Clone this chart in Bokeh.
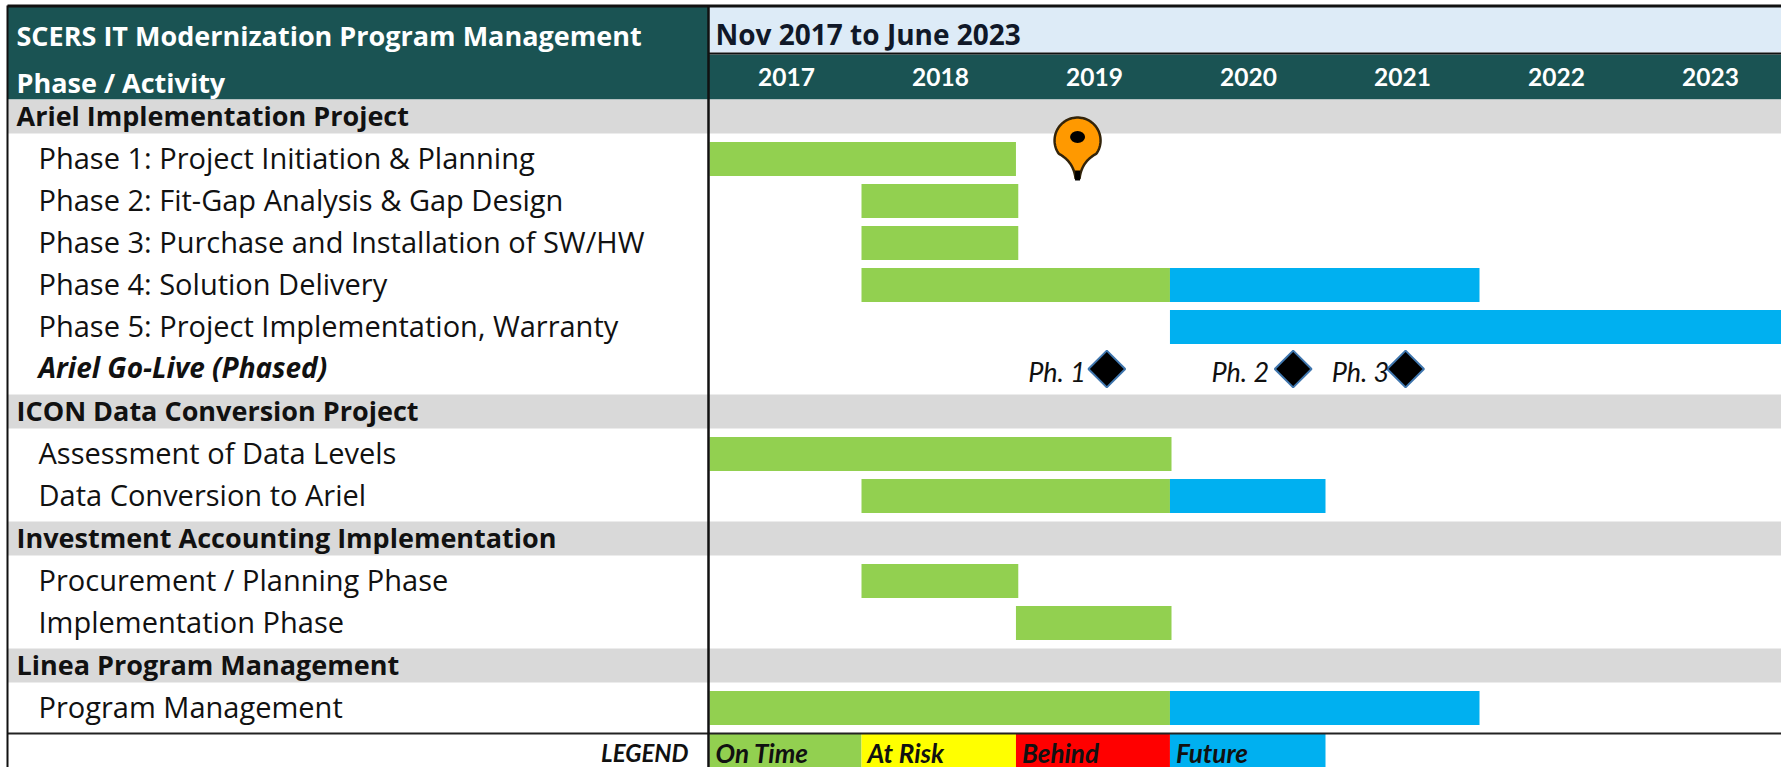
import numpy as np
from bokeh.plotting import figure
from bokeh.models import Range1d
from bokeh.core.properties import value
from bokeh.embed import file_html
from bokeh.resources import INLINE

title_left = "SCERS IT Modernization Program Management"
subtitle_left = "Phase / Activity"
title_right = "Nov 2017 to June 2023"
years = [2017, 2018, 2019, 2020, 2021, 2022, 2023]

groups = ["Ariel Implementation Project", "ICON Data Conversion Project",
          "Investment Accounting Implementation", "Linea Program Management"]
activities = [
    ["Phase 1: Project Initiation & Planning", "Phase 2: Fit-Gap Analysis & Gap Design",
     "Phase 3: Purchase and Installation of SW/HW", "Phase 4: Solution Delivery",
     "Phase 5: Project Implementation, Warranty", "Ariel Go-Live (Phased)"],
    ["Assessment of Data Levels", "Data Conversion to Ariel"],
    ["Procurement / Planning Phase", "Implementation Phase"],
    ["Program Management"],
]
# (group, row, start, end, status)
bars = [
    (0, 0, 2017.0, 2018.99, "On Time"),
    (0, 1, 2017.987, 2019.005, "On Time"),
    (0, 2, 2017.987, 2019.005, "On Time"),
    (0, 3, 2017.987, 2019.99, "On Time"),
    (0, 3, 2019.99, 2022.0, "Future"),
    (0, 4, 2019.99, 2024.0, "Future"),
    (1, 0, 2017.0, 2020.0, "On Time"),
    (1, 1, 2017.987, 2019.99, "On Time"),
    (1, 1, 2019.99, 2021.0, "Future"),
    (2, 0, 2017.987, 2019.005, "On Time"),
    (2, 1, 2018.99, 2020.0, "On Time"),
    (3, 0, 2017.0, 2019.99, "On Time"),
    (3, 0, 2019.99, 2022.0, "Future"),
]
milestones = ["Ph. 1", "Ph. 2", "Ph. 3"]
milestone_x = [2019.58, 2020.79, 2021.52]
milestone_label_x = [2019.07, 2020.26, 2021.04]
pin_x = 2019.39
legend_names = ["On Time", "At Risk", "Behind", "Future"]
legend_edges = [2017.0, 2017.987, 2018.99, 2019.99, 2021.0]
colors = {"On Time": "#92D050", "At Risk": "#FFFF00", "Behind": "#FF0000", "Future": "#00B0F0"}

W, H = 1781, 767
X0, PX = 709.0, 154.0
def yr(px):
    return 2017 + (px - X0) / PX

p = figure(width=W, height=H, x_range=Range1d(yr(0), yr(W)), y_range=Range1d(H, 0),
           toolbar_location=None, output_backend="svg", min_border=0, outline_line_color=None,
           background_fill_color="white", border_fill_color="white")
p.axis.visible = False
p.grid.visible = False

FONT = value("Open Sans")
XL, XD, XR = yr(7), yr(708), yr(W)
TEAL, GREY, PALE = "#1A5353", "#D9D9D9", "#DDEBF7"
INK = "#111111"

# header
p.quad(left=XL, right=XD, top=6, bottom=99, fill_color=TEAL, line_color=None)
p.quad(left=XD, right=XR, top=6, bottom=52, fill_color=PALE, line_color=None)
p.quad(left=XD, right=XR, top=54, bottom=99, fill_color=TEAL, line_color=None)
p.text(x=[yr(16)], y=[35], text=[title_left], text_font=FONT, text_font_style="bold", text_color="white",
       text_font_size="27px", text_baseline="middle")
p.text(x=[yr(16)], y=[82], text=[subtitle_left], text_font=FONT, text_font_style="bold", text_color="white",
       text_font_size="27px", text_baseline="middle")
p.text(x=[yr(715)], y=[33], text=[title_right], text_font=FONT, text_font_style="bold", text_color="#101828",
       text_font_size="28px", text_baseline="middle")
p.text(x=[y + 0.5 for y in years], y=[76] * len(years), text=[str(y) for y in years], text_font=value("Lato"),
       text_font_style="bold", text_color="white", text_font_size="24.5px", text_baseline="middle", text_align="center")

# sections
G_H, R_H, PAD, TOP = 34, 42, 9, 99
y = TOP
centers = {}
for gi, (g, rows) in enumerate(zip(groups, activities)):
    p.quad(left=XL, right=XR, top=y, bottom=y + G_H, fill_color=GREY, line_color=None)
    p.text(x=[yr(16)], y=[y + G_H / 2 - 1.5], text=[g], text_font=FONT, text_font_style="bold", text_color=INK,
           text_font_size="27px", text_baseline="middle")
    for ri, r in enumerate(rows):
        c = y + G_H + 25.5 + R_H * ri
        centers[(gi, ri)] = c
        bold = r.startswith("Ariel Go-Live")
        p.text(x=[yr(38)], y=[c - 2], text=[r], text_font=FONT, text_color=INK,
               text_font_size="28px" if bold else "29px",
               text_baseline="middle", text_font_style="bold italic" if bold else "normal")
    y += G_H + R_H * len(rows) + PAD

# bars
BAR_H = 34
for gi, ri, s, e, st in bars:
    c = centers[(gi, ri)]
    p.quad(left=s, right=e, top=c - BAR_H / 2, bottom=c + BAR_H / 2, fill_color=colors[st], line_color=None)

# milestones
cy = centers[(0, 5)]
p.scatter(x=milestone_x, y=[cy] * 3, marker="square", size=26, angle=np.pi / 4, fill_color="black",
          line_color="#3F76AE", line_width=2)
p.text(x=milestone_label_x, y=[cy + 2] * 3, text=milestones,
       text_font=value("Lato"), text_font_style="italic", text_color=INK, text_font_size="27px",
       text_baseline="middle", text_align="left")

# pin: round head running into a concave taper, mirrored about its axis
head_y, r_px = 140.0, 23.0
t = np.linspace(np.radians(-215), np.radians(35), 60)
hx = r_px * np.cos(t)
hy = head_y + r_px * np.sin(t)
u = np.linspace(0, 1, 20)
bx = (1 - u) ** 2 * hx[-1] + 2 * u * (1 - u) * 4 + u ** 2 * 2
by = (1 - u) ** 2 * hy[-1] + 2 * u * (1 - u) * (head_y + 21) + u ** 2 * 178
xs = pin_x + np.concatenate([hx, bx, -bx[::-1]]) / PX
ys = np.concatenate([hy, by, by[::-1]])
p.patch(x=list(xs), y=list(ys), fill_color="#FF9900", line_color="#33240A", line_width=2.5)
p.quad(left=pin_x - 2.5 / PX, right=pin_x + 2.5 / PX, top=170, bottom=180, fill_color="black", line_color=None)
p.ellipse(x=[pin_x], y=[136.5], width=15 / PX, height=12, fill_color="black", line_color=None)

# legend
LEG_T = y
for i, n in enumerate(legend_names):
    p.quad(left=legend_edges[i], right=legend_edges[i + 1], top=LEG_T, bottom=H, fill_color=colors[n], line_color=None)
    p.text(x=[legend_edges[i] + 6 / PX], y=[752], text=[n], text_font=value("Lato"), text_font_style="bold italic",
           text_color=INK, text_font_size="26px", text_baseline="middle")
p.text(x=[yr(688)], y=[752], text=["LEGEND"], text_font=value("Lato"), text_font_style="bold italic", text_color=INK,
       text_font_size="24px", text_baseline="middle", text_align="right")

# rules
p.segment(x0=XL, x1=XR, y0=5.5, y1=5.5, line_color=INK, line_width=3)
p.segment(x0=XD, x1=XR, y0=53, y1=53, line_color=INK, line_width=2)
p.segment(x0=XL, x1=XR, y0=LEG_T, y1=LEG_T, line_color="#222222", line_width=2)
p.segment(x0=XL, x1=XL, y0=5, y1=H, line_color=INK, line_width=2)
p.segment(x0=XD, x1=XD, y0=5, y1=H, line_color=INK, line_width=2.5)

open("out.html", "w").write(file_html(p, INLINE))
